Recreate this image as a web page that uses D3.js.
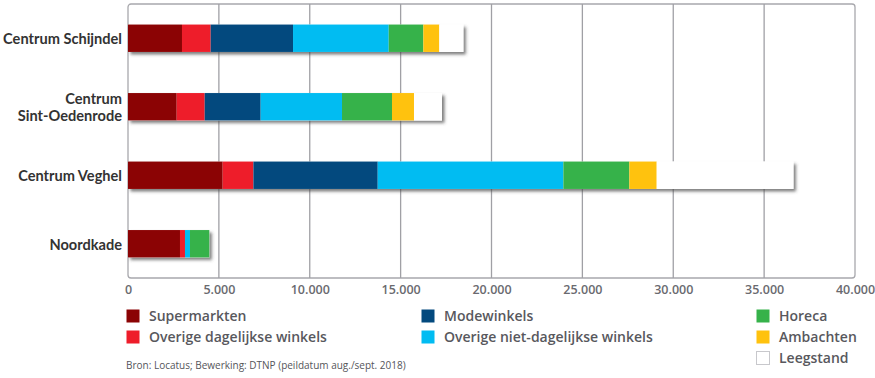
<!DOCTYPE html>
<html><head><meta charset="utf-8">
<script src="https://cdn.jsdelivr.net/npm/d3@7"></script>
<style>
html,body{margin:0;padding:0;background:#fff;}
svg{display:block;font-family:"Open Sans",sans-serif;}
</style></head>
<body><svg id="chart" width="875" height="378"></svg>
<script>
const categories = ["Centrum Schijndel", "Centrum Sint-Oedenrode", "Centrum Veghel", "Noordkade"];
const categoryLines = [["Centrum Schijndel"], ["Centrum", "Sint-Oedenrode"], ["Centrum Veghel"], ["Noordkade"]];
const seriesNames = ["Supermarkten", "Overige dagelijkse winkels", "Modewinkels", "Overige niet-dagelijkse winkels", "Horeca", "Ambachten", "Leegstand"];
const seriesColors = ["#8b0304", "#ee1d2a", "#03497e", "#01bcf2", "#36b24a", "#ffc20e", "#ffffff"];
const supermarkten   = [2970, 2680, 5210, 2860];
const overigeDag     = [1580, 1540, 1690, 275];
const modewinkels    = [4530, 3080, 6840, 0];
const overigeNietDag = [5265, 4475, 10215, 275];
const horeca         = [1905, 2750, 3630, 1065];
const ambachten      = [880, 1210, 1505, 0];
const leegstand      = [1320, 1540, 7520, 0];
const tickValues = [0, 5000, 10000, 15000, 20000, 25000, 30000, 35000, 40000];
const tickLabels = ["0", "5.000", "10.000", "15.000", "20.000", "25.000", "30.000", "35.000", "40.000"];
const sourceText = "Bron: Locatus; Bewerking: DTNP (peildatum aug./sept. 2018)";

const seriesValues = [supermarkten, overigeDag, modewinkels, overigeNietDag, horeca, ambachten, leegstand];
const rows = categories.map((c, i) => {
  const r = {cat: c};
  seriesNames.forEach((s, j) => r[s] = seriesValues[j][i]);
  return r;
});
const stack = d3.stack().keys(seriesNames)(rows);

const svg = d3.select("#chart");
const L = 128, R = 855, T = 4, B = 278;
const x = d3.scaleLinear().domain([0, 40000]).range([L, R]);
const y = d3.scaleBand().domain(categories).range([T, B]).paddingInner(0.6).paddingOuter(0.3);

const defs = svg.append("defs");
const f = defs.append("filter").attr("id", "sh").attr("x", "-5%").attr("y", "-30%").attr("width", "115%").attr("height", "170%");
f.append("feDropShadow").attr("dx", 2.5).attr("dy", 2.5).attr("stdDeviation", 1.6).attr("flood-color", "#444").attr("flood-opacity", 0.7);

// frame
svg.append("rect").attr("x", L).attr("y", T).attr("width", R - L).attr("height", B - T)
  .attr("rx", 3).attr("fill", "none").attr("stroke", "#a8a8ad").attr("stroke-width", 1.3);

// gridlines
svg.append("g").selectAll("line").data(tickValues.slice(1, -1)).join("line")
  .attr("x1", d => x(d)).attr("x2", d => x(d)).attr("y1", T).attr("y2", B)
  .attr("stroke", "#a0a0a5").attr("stroke-width", 1.3);

// x axis labels
const xAxis = d3.axisBottom(x).tickValues(tickValues).tickFormat((d, i) => tickLabels[i]).tickSize(0).tickPadding(7);
const gx = svg.append("g").attr("transform", `translate(0,${B})`).call(xAxis);
gx.select(".domain").remove();
gx.selectAll("text").attr("font-family", "'Open Sans',sans-serif").attr("font-size", 12.5)
  .attr("font-weight", 600).attr("fill", "#6a6a6f");

// bars
const gb = svg.append("g");
rows.forEach((r, i) => {
  const total = seriesNames.reduce((a, s) => a + r[s], 0);
  gb.append("rect").attr("x", x(0)).attr("y", y(r.cat)).attr("width", x(total) - x(0))
    .attr("height", y.bandwidth()).attr("fill", "#fff").attr("filter", "url(#sh)");
});
stack.forEach((layer, j) => {
  gb.append("g").attr("fill", seriesColors[j]).selectAll("rect").data(layer).join("rect")
    .attr("x", d => x(d[0])).attr("y", d => y(d.data.cat))
    .attr("width", d => Math.max(0, x(d[1]) - x(d[0]))).attr("height", y.bandwidth());
});

// y labels
const gy = svg.append("g");
categories.forEach((c, i) => {
  const lines = categoryLines[i];
  const cy = y(c) + y.bandwidth() / 2 + 1;
  const lh = 17;
  lines.forEach((t, k) => {
    gy.append("text").attr("x", 122).attr("y", cy + (k - (lines.length - 1) / 2) * lh)
      .attr("dy", "0.35em").attr("text-anchor", "end")
      .attr("font-family", "Lato, sans-serif")
      .attr("font-size", 14.6).attr("font-weight", 700).attr("fill", "#333")
      .text(t);
  });
});

// legend
const legCols = [126, 421, 756];
const legRows = [316, 337, 358];
const legPos = [[0,0],[0,1],[1,0],[1,1],[2,0],[2,1],[2,2]];
const gl = svg.append("g");
seriesNames.forEach((s, j) => {
  const [c, r] = legPos[j];
  gl.append("rect").attr("x", legCols[c] + 0.5).attr("y", legRows[r] - 6.5).attr("width", 13).attr("height", 13)
    .attr("fill", seriesColors[j]).attr("stroke", j === 6 ? "#c8c8cc" : "none");
  gl.append("text").attr("x", legCols[c] + 23).attr("y", legRows[r]).attr("dy", "0.35em")
    .attr("font-size", 14).attr("font-weight", 600).attr("fill", "#58585d").text(s);
});

svg.append("text").attr("x", 126).attr("y", 365).attr("dy", "0.35em")
  .attr("font-size", 10).attr("font-weight", 400).attr("fill", "#55555a").text(sourceText);
</script>
</body></html>
